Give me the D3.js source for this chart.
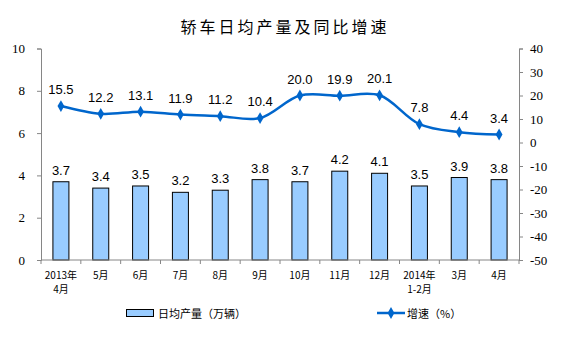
<!DOCTYPE html>
<html><head><meta charset="utf-8">
<script src="https://cdn.jsdelivr.net/npm/d3@7/dist/d3.min.js"></script>
<style>body{margin:0;background:#fff}svg{display:block}</style>
</head><body>
<script>
const categories = [["2013年","4月"],["5月"],["6月"],["7月"],["8月"],["9月"],["10月"],["11月"],["12月"],["2014年","1-2月"],["3月"],["4月"]];
const output = [3.7,3.4,3.5,3.2,3.3,3.8,3.7,4.2,4.1,3.5,3.9,3.8];
const growth = [15.5,12.2,13.1,11.9,11.2,10.4,20.0,19.9,20.1,7.8,4.4,3.4];
const leftTicks = [0,2,4,6,8,10];
const rightTicks = [-50,-40,-30,-20,-10,0,10,20,30,40];
const title = "轿车日均产量及同比增速";
const legendBar = "日均产量（万辆）";
const legendLine = "增速（%）";

const W=565,H=350, L=41, R=519, T=48.5, B=260;
const svg=d3.select("body").append("svg").attr("width",W).attr("height",H);
const idx=d3.range(categories.length);
const x=d3.scaleBand().domain(idx).range([L,R]);
const yL=d3.scaleLinear().domain([0,10]).range([B,T]);
const yR=d3.scaleLinear().domain([-50,40]).range([B,T]);
const gray="#868686", blue="#0066CC";

svg.append("text").attr("x",285).attr("y",33).attr("text-anchor","middle")
 .attr("font-family","Noto Sans CJK SC").attr("font-size",16).attr("letter-spacing",3).attr("fill","#000").text(title);

// axes
const ga=svg.append("g").attr("transform",`translate(${L},0)`).call(d3.axisLeft(yL).tickValues(leftTicks).tickSize(4).tickPadding(12).tickFormat(d=>String(d)));
const gr=svg.append("g").attr("transform",`translate(${R},0)`).call(d3.axisRight(yR).tickValues(rightTicks).tickSize(4).tickPadding(7).tickFormat(d=>String(d)));
[ga,gr].forEach(g=>{g.select(".domain").attr("stroke",gray);g.selectAll(".tick line").attr("stroke",gray);
 g.selectAll("text").attr("font-family","Liberation Serif").attr("font-size",13).attr("fill","#000");});

// bars
svg.selectAll("rect.bar").data(output).join("rect").attr("class","bar")
 .attr("x",(d,i)=>x(i)+x.bandwidth()/2-8).attr("width",16)
 .attr("y",d=>yL(d)).attr("height",d=>B-yL(d))
 .attr("fill","#99CCFF").attr("stroke","#000").attr("stroke-width",1);

// bottom axis
svg.append("line").attr("x1",L).attr("x2",R).attr("y1",B).attr("y2",B).attr("stroke",gray);
svg.selectAll("line.xt").data(d3.range(categories.length+1)).join("line").attr("class","xt")
 .attr("x1",i=>L+i*x.step()).attr("x2",i=>L+i*x.step()).attr("y1",B).attr("y2",B+4).attr("stroke",gray);
const xl=svg.selectAll("text.xl").data(categories).join("text").attr("class","xl")
 .attr("text-anchor","middle").attr("font-family","Noto Sans CJK SC").attr("font-size",10).attr("fill","#000");
xl.each(function(d,i){const t=d3.select(this);d.forEach((s,k)=>t.append("tspan").attr("x",x(i)+x.bandwidth()/2).attr("y",279+k*14).text(s));});

// bar labels
svg.selectAll("text.bl").data(output).join("text").attr("class","bl")
 .attr("x",(d,i)=>x(i)+x.bandwidth()/2).attr("y",d=>yL(d)-7).attr("text-anchor","middle")
 .attr("font-family","Liberation Sans").attr("font-size",13).attr("fill","#000").text(d=>d.toFixed(1));

// line
const line=d3.line().x((d,i)=>x(i)+x.bandwidth()/2).y(d=>yR(d)).curve(d3.curveCatmullRom.alpha(0.5));
svg.append("path").datum(growth).attr("d",line).attr("fill","none").attr("stroke",blue).attr("stroke-width",2.5);
const diamond=d3.symbol().type(d3.symbolDiamond).size(40);
svg.selectAll("path.mk").data(growth).join("path").attr("class","mk").attr("d",diamond)
 .attr("transform",(d,i)=>`translate(${x(i)+x.bandwidth()/2},${yR(d)})`).attr("fill",blue);
svg.selectAll("text.ll").data(growth).join("text").attr("class","ll")
 .attr("x",(d,i)=>x(i)+x.bandwidth()/2).attr("y",d=>yR(d)-12).attr("text-anchor","middle")
 .attr("font-family","Liberation Sans").attr("font-size",13).attr("fill","#000").text(d=>d.toFixed(1));

// legend
svg.append("rect").attr("x",126.5).attr("y",309.5).attr("width",27).attr("height",7).attr("fill","#99CCFF").attr("stroke","#000");
svg.append("text").attr("x",158).attr("y",318).attr("font-family","Noto Sans CJK SC").attr("font-size",11).attr("fill","#000").text(legendBar);
svg.append("line").attr("x1",377).attr("x2",405).attr("y1",313).attr("y2",313).attr("stroke",blue).attr("stroke-width",2.5);
svg.append("path").attr("d",diamond).attr("transform","translate(391,313)").attr("fill",blue);
svg.append("text").attr("x",407).attr("y",318).attr("font-family","Noto Sans CJK SC").attr("font-size",11).attr("fill","#000").text(legendLine);
</script>
</body></html>
